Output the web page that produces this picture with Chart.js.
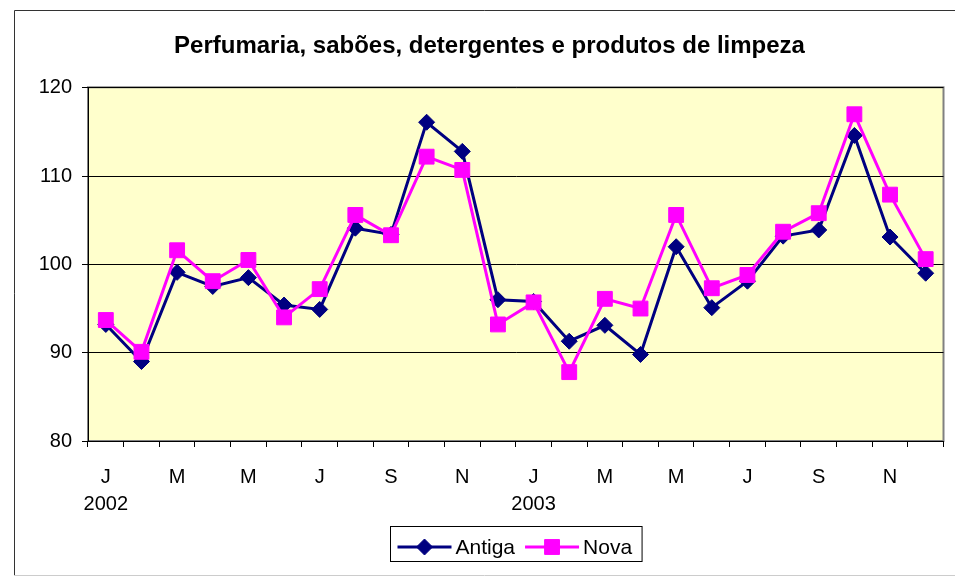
<!DOCTYPE html>
<html>
<head>
<meta charset="utf-8">
<script src="https://cdn.jsdelivr.net/npm/chart.js@4/dist/chart.umd.min.js"></script>
<style>
  html, body { margin: 0; padding: 0; background: #fff; }
  #wrap { width: 955px; height: 576px; position: relative; }
</style>
</head>
<body>
<div id="wrap"><canvas id="c" width="955" height="576"></canvas></div>
<script>
const TITLE = "Perfumaria, sabões, detergentes e produtos de limpeza";
const months = ["J","F","M","A","M","J","J","A","S","O","N","D","J","F","M","A","M","J","J","A","S","O","N","D"];
const years = {0: "2002", 12: "2003"};
const antiga = [93.2, 89.0, 99.1, 97.5, 98.5, 95.4, 94.9, 104.1, 103.4, 116.1, 112.8, 96.0,
                95.8, 91.3, 93.1, 89.8, 102.0, 95.1, 98.1, 103.2, 103.9, 114.6, 103.1, 99.0];
const nova   = [93.7, 90.1, 101.6, 98.1, 100.5, 94.0, 97.2, 105.6, 103.3, 112.2, 110.7, 93.2,
                95.7, 87.8, 96.1, 95.0, 105.6, 97.3, 98.8, 103.7, 105.8, 117.0, 107.9, 100.6];
const yTicks = [80, 90, 100, 110, 120];

const FONT = "'Liberation Sans', Arial, sans-serif";
const labels = months.map((m, i) => years[i] !== undefined ? [m, years[i]] : m);

const framePlugin = {
  id: 'frame',
  beforeDraw(chart) {
    const {ctx, chartArea: a} = chart;
    ctx.save();
    ctx.fillStyle = '#FFFFCC';
    ctx.fillRect(a.left, a.top, a.right - a.left, a.bottom - a.top);
    ctx.strokeStyle = '#808080';
    ctx.lineWidth = 2;
    ctx.strokeRect(a.left, a.top - 0.5, a.right - a.left, a.bottom - a.top + 0.5);
    ctx.restore();
  },
  afterDraw(chart) {
    const {ctx, chartArea: a} = chart;
    ctx.save();
    // outer chart border
    ctx.strokeStyle = '#333';
    ctx.lineWidth = 1;
    ctx.beginPath();
    ctx.moveTo(14.5, 576); ctx.lineTo(14.5, 10.5); ctx.lineTo(955, 10.5);
    ctx.stroke();
    ctx.strokeStyle = '#cccccc';
    ctx.beginPath();
    ctx.moveTo(14, 575.5); ctx.lineTo(955, 575.5);
    ctx.stroke();
    // legend
    ctx.font = '21px ' + FONT;
    ctx.textBaseline = 'middle';
    const ds = chart.data.datasets;
    const lineLen = 54, gap1 = 4, gap2 = 10;
    const widths = ds.map(d => ctx.measureText(d.label).width);
    let total = 7;
    ds.forEach((d, i) => { total += lineLen + gap1 + widths[i] + (i < ds.length - 1 ? gap2 : 0); });
    total += 10;
    const cx = (a.left + a.right) / 2;
    const boxL = Math.round(cx - total / 2) + 0.5, boxT = 526.5, boxH = 35;
    ctx.fillStyle = '#fff';
    ctx.fillRect(boxL, boxT, total, boxH);
    ctx.strokeStyle = '#000';
    ctx.lineWidth = 1;
    ctx.strokeRect(boxL, boxT, total, boxH);
    let x = boxL + 7;
    const y = 547;
    ds.forEach((d, i) => {
      ctx.strokeStyle = d.borderColor;
      ctx.lineWidth = 3;
      ctx.beginPath(); ctx.moveTo(x, y); ctx.lineTo(x + lineLen, y); ctx.stroke();
      ctx.fillStyle = d.pointBackgroundColor;
      ctx.strokeStyle = d.pointBorderColor;
      ctx.lineWidth = 1;
      Chart.helpers.drawPoint(ctx, {pointStyle: d.pointStyle, rotation: 0, radius: d.pointRadius, borderWidth: 1}, x + lineLen / 2, y);
      x += lineLen + gap1;
      ctx.fillStyle = '#000';
      ctx.textAlign = 'left';
      ctx.fillText(d.label, x, y + 1);
      x += widths[i] + gap2;
    });
    ctx.restore();
  }
};

new Chart(document.getElementById('c'), {
  type: 'line',
  data: {
    labels: labels,
    datasets: [
      {
        label: 'Antiga', data: antiga,
        borderColor: '#000080', backgroundColor: '#000080',
        pointBackgroundColor: '#000080', pointBorderColor: '#000080',
        pointStyle: 'rectRot', pointRadius: 8, pointBorderWidth: 1,
        borderWidth: 3, tension: 0, order: 1
      },
      {
        label: 'Nova', data: nova,
        borderColor: '#FF00FF', backgroundColor: '#FF00FF',
        pointBackgroundColor: '#FF00FF', pointBorderColor: '#FF00FF',
        pointStyle: 'rect', pointRadius: 10.5, pointBorderWidth: 1,
        borderWidth: 3, tension: 0, order: 0
      }
    ]
  },
  options: {
    responsive: false,
    animation: false,
    devicePixelRatio: 1,
    layout: { padding: { left: 33, right: 9, top: 0, bottom: 0 } },
    plugins: {
      legend: { display: false },
      tooltip: { enabled: false },
      title: {
        display: true, text: TITLE, color: '#000',
        font: { family: FONT, size: 24, weight: 'bold', lineHeight: 1.2 },
        padding: { top: 32, bottom: 27 }
      }
    },
    scales: {
      x: {
        offset: true,
        afterFit(s) { s.height = 135; },
        grid: { display: true, drawOnChartArea: false, drawTicks: true, tickLength: 6, offset: true, color: '#000' },
        border: { display: true, color: '#000', width: 1 },
        ticks: {
          autoSkip: false, maxRotation: 0, minRotation: 0, padding: 17, color: '#000',
          font: { family: FONT, size: 20, lineHeight: 1.35 },
          callback(v, i) { return i % 2 === 0 ? labels[i] : ''; }
        }
      },
      y: {
        min: yTicks[0], max: yTicks[yTicks.length - 1],
        afterFit(s) { s.width = 55; },
        afterBuildTicks(s) { s.ticks = yTicks.map(v => ({value: v})); },
        grid: { color: '#000', lineWidth: 1, tickLength: 6, drawTicks: true },
        border: { display: true, color: '#000', width: 1 },
        ticks: { padding: 10, color: '#000', font: { family: FONT, size: 20 } }
      }
    }
  },
  plugins: [framePlugin]
});
</script>
</body>
</html>
